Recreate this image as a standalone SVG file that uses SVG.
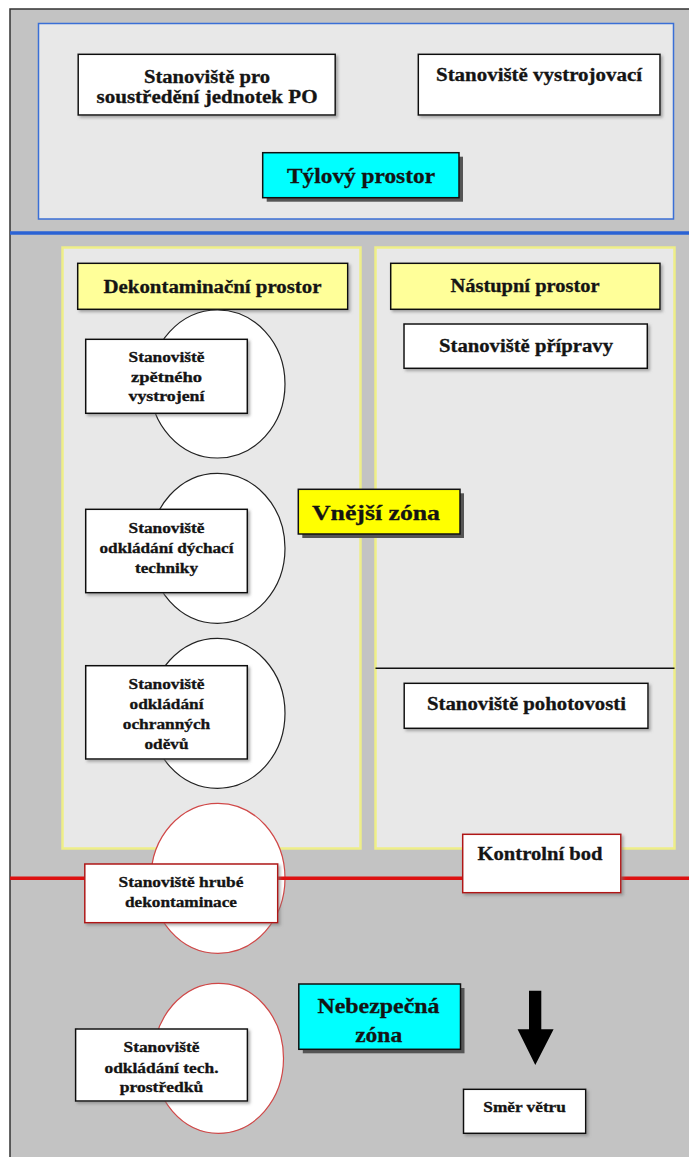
<svg xmlns="http://www.w3.org/2000/svg" width="689" height="1157" viewBox="0 0 689 1157">
<defs>
<style>
text{font-family:'Liberation Serif','DejaVu Serif','Times New Roman',serif;font-weight:700;fill:#141414;stroke:#141414;stroke-width:0.3;text-anchor:middle}
.s14{font-size:14.5px}.s18{font-size:18px}.s21{font-size:21px}
.box{fill:#ffffff;stroke:#111111;stroke-width:1.5}
.rbox{fill:#ffffff;stroke:#b01818;stroke-width:1.5}
.hdr{fill:#ffff99;stroke:#111111;stroke-width:1.5}
.yel{fill:#ffff00;stroke:#111111;stroke-width:1.5}
.cyan{fill:#00ffff;stroke:#111111;stroke-width:1.5}
.shd{fill:#555555}
.ell{fill:#ffffff;stroke:#222222;stroke-width:1.2}
.rell{fill:#ffffff;stroke:#d04848;stroke-width:1.2}
.panel{fill:#e8e8e8;stroke:#eeee88;stroke-width:2.5}
</style>
<filter id="soft" x="-10%" y="-10%" width="130%" height="140%">
<feDropShadow dx="2" dy="2" stdDeviation="1.5" flood-color="#777777" flood-opacity="0.6"/>
</filter>
</defs>
<rect x="0" y="0" width="689" height="1157" fill="#ffffff"/>
<rect id="frame" x="10" y="9" width="700" height="1170" fill="#c3c3c3" stroke="#333333" stroke-width="1.5"/>

<g id="rear-area">
<rect x="38.5" y="23.5" width="635" height="195.5" fill="#e8e8e8" stroke="#3a6fd6" stroke-width="1.5"/>
</g>
<line id="blue-boundary" x1="10" y1="233" x2="689" y2="233" stroke="#2a62d4" stroke-width="3.5"/>

<g id="decon-panel"><rect class="panel" x="62.5" y="247.5" width="298" height="601"/></g>
<g id="entry-panel"><rect class="panel" x="375.5" y="247.5" width="299" height="601"/>
<line x1="375.5" y1="668.3" x2="674.5" y2="668.3" stroke="#111111" stroke-width="1.5"/></g>

<g id="concentration-site">
<rect class="box" filter="url(#soft)" x="78.2" y="54.3" width="257" height="60.7"/>
<text class="s18" x="207" y="83" textLength="126" lengthAdjust="spacingAndGlyphs">Stanoviště pro</text>
<text class="s18" x="207" y="103" textLength="221" lengthAdjust="spacingAndGlyphs">soustředění jednotek PO</text>
</g>
<g id="equipping-site">
<rect class="box" filter="url(#soft)" x="418.3" y="54.3" width="241.7" height="60.7"/>
<text class="s18" x="539" y="81" textLength="206" lengthAdjust="spacingAndGlyphs">Stanoviště vystrojovací</text>
</g>
<g id="rear-label">
<rect class="shd" x="266.7" y="156.7" width="196.3" height="45"/>
<rect class="cyan" x="262.7" y="152.7" width="196.3" height="45"/>
<text class="s21" x="361" y="182.5" textLength="148" lengthAdjust="spacingAndGlyphs">Týlový prostor</text>
</g>

<g id="decon-header">
<rect class="hdr" filter="url(#soft)" x="77.7" y="263.3" width="270" height="46"/>
<text class="s18" x="212.5" y="292.8" textLength="218" lengthAdjust="spacingAndGlyphs">Dekontaminační prostor</text>
</g>
<g id="entry-header">
<rect class="hdr" filter="url(#soft)" x="390.7" y="263.3" width="269.3" height="46"/>
<text class="s18" x="525" y="291.5" textLength="149" lengthAdjust="spacingAndGlyphs">Nástupní prostor</text>
</g>
<g id="preparation-site">
<rect class="box" filter="url(#soft)" x="404" y="324" width="243.3" height="44.3"/>
<text class="s18" x="526" y="351.5" textLength="174" lengthAdjust="spacingAndGlyphs">Stanoviště přípravy</text>
</g>
<g id="standby-site">
<rect class="box" filter="url(#soft)" x="404.2" y="683.3" width="243.8" height="45"/>
<text class="s18" x="526.5" y="710" textLength="199" lengthAdjust="spacingAndGlyphs">Stanoviště pohotovosti</text>
</g>

<g id="re-equipping-site">
<ellipse class="ell" cx="217.5" cy="384" rx="67.5" ry="74"/>
<rect class="box" filter="url(#soft)" x="85.7" y="339.3" width="161.6" height="74"/>
<text class="s14" x="166.5" y="361.5" textLength="76" lengthAdjust="spacingAndGlyphs">Stanoviště</text>
<text class="s14" x="166.5" y="381.5" textLength="71" lengthAdjust="spacingAndGlyphs">zpětného</text>
<text class="s14" x="166.5" y="400.5" textLength="76" lengthAdjust="spacingAndGlyphs">vystrojení</text>
</g>
<g id="breathing-site">
<ellipse class="ell" cx="217.5" cy="548.3" rx="67.5" ry="75"/>
<rect class="box" filter="url(#soft)" x="85.7" y="509.3" width="161.6" height="83.4"/>
<text class="s14" x="166.5" y="533" textLength="76" lengthAdjust="spacingAndGlyphs">Stanoviště</text>
<text class="s14" x="166.5" y="553" textLength="134" lengthAdjust="spacingAndGlyphs">odkládání dýchací</text>
<text class="s14" x="166.5" y="573" textLength="63" lengthAdjust="spacingAndGlyphs">techniky</text>
</g>
<g id="clothing-site">
<ellipse class="ell" cx="217.5" cy="713.3" rx="67.5" ry="75"/>
<rect class="box" filter="url(#soft)" x="85.7" y="665.7" width="161.6" height="93.3"/>
<text class="s14" x="166.5" y="689" textLength="76" lengthAdjust="spacingAndGlyphs">Stanoviště</text>
<text class="s14" x="166.5" y="708.5" textLength="74" lengthAdjust="spacingAndGlyphs">odkládání</text>
<text class="s14" x="166.5" y="728.5" textLength="87.5" lengthAdjust="spacingAndGlyphs">ochranných</text>
<text class="s14" x="166.5" y="748.5" textLength="44" lengthAdjust="spacingAndGlyphs">oděvů</text>
</g>

<g id="outer-zone-label">
<rect class="shd" x="302.3" y="493.3" width="161.7" height="44.7"/>
<rect class="yel" x="298.3" y="489.3" width="161.7" height="44.7"/>
<text class="s21" x="376" y="520" textLength="128" lengthAdjust="spacingAndGlyphs">Vnější zóna</text>
</g>

<g id="coarse-decon-site">
<ellipse class="rell" cx="218" cy="878.3" rx="67" ry="75"/>
</g>
<line id="red-boundary" x1="10" y1="878.3" x2="689" y2="878.3" stroke="#dd1111" stroke-width="3.5"/>
<g id="coarse-decon-box">
<rect class="rbox" filter="url(#soft)" x="84.8" y="864" width="192.9" height="58.7"/>
<text class="s14" x="181" y="886.5" textLength="125" lengthAdjust="spacingAndGlyphs">Stanoviště hrubé</text>
<text class="s14" x="181" y="907" textLength="112" lengthAdjust="spacingAndGlyphs">dekontaminace</text>
</g>
<g id="checkpoint">
<rect class="rbox" filter="url(#soft)" x="462.7" y="834.3" width="158.1" height="58.4"/>
<text class="s18" x="540" y="860" textLength="125" lengthAdjust="spacingAndGlyphs">Kontrolní bod</text>
</g>

<g id="tech-storage-site">
<ellipse class="rell" cx="218.5" cy="1058.3" rx="65" ry="75"/>
<rect class="box" filter="url(#soft)" x="75.6" y="1029" width="171.8" height="72"/>
<text class="s14" x="161.5" y="1052" textLength="76" lengthAdjust="spacingAndGlyphs">Stanoviště</text>
<text class="s14" x="161.5" y="1072.5" textLength="114" lengthAdjust="spacingAndGlyphs">odkládání tech.</text>
<text class="s14" x="161.5" y="1091.5" textLength="83.5" lengthAdjust="spacingAndGlyphs">prostředků</text>
</g>

<g id="danger-zone-label">
<rect class="shd" x="302.8" y="988" width="161.7" height="65.3"/>
<rect class="cyan" x="298.8" y="984" width="161.7" height="65.3"/>
<text class="s21" x="378.5" y="1013" textLength="122" lengthAdjust="spacingAndGlyphs">Nebezpečná</text>
<text class="s21" x="378.7" y="1041.5" textLength="47" lengthAdjust="spacingAndGlyphs">zóna</text>
</g>

<g id="connectors">
<polygon id="wind-arrow" points="529,990.7 541.3,990.7 541.3,1029.3 553.6,1029.3 535.3,1065 517.6,1029.3 529,1029.3" fill="#000000"/>
</g>

<g id="wind-label">
<rect class="box" filter="url(#soft)" x="463.5" y="1089.3" width="122.2" height="44"/>
<text class="s14" x="524.6" y="1111.5" textLength="82.6" lengthAdjust="spacingAndGlyphs">Směr větru</text>
</g>
</svg>
